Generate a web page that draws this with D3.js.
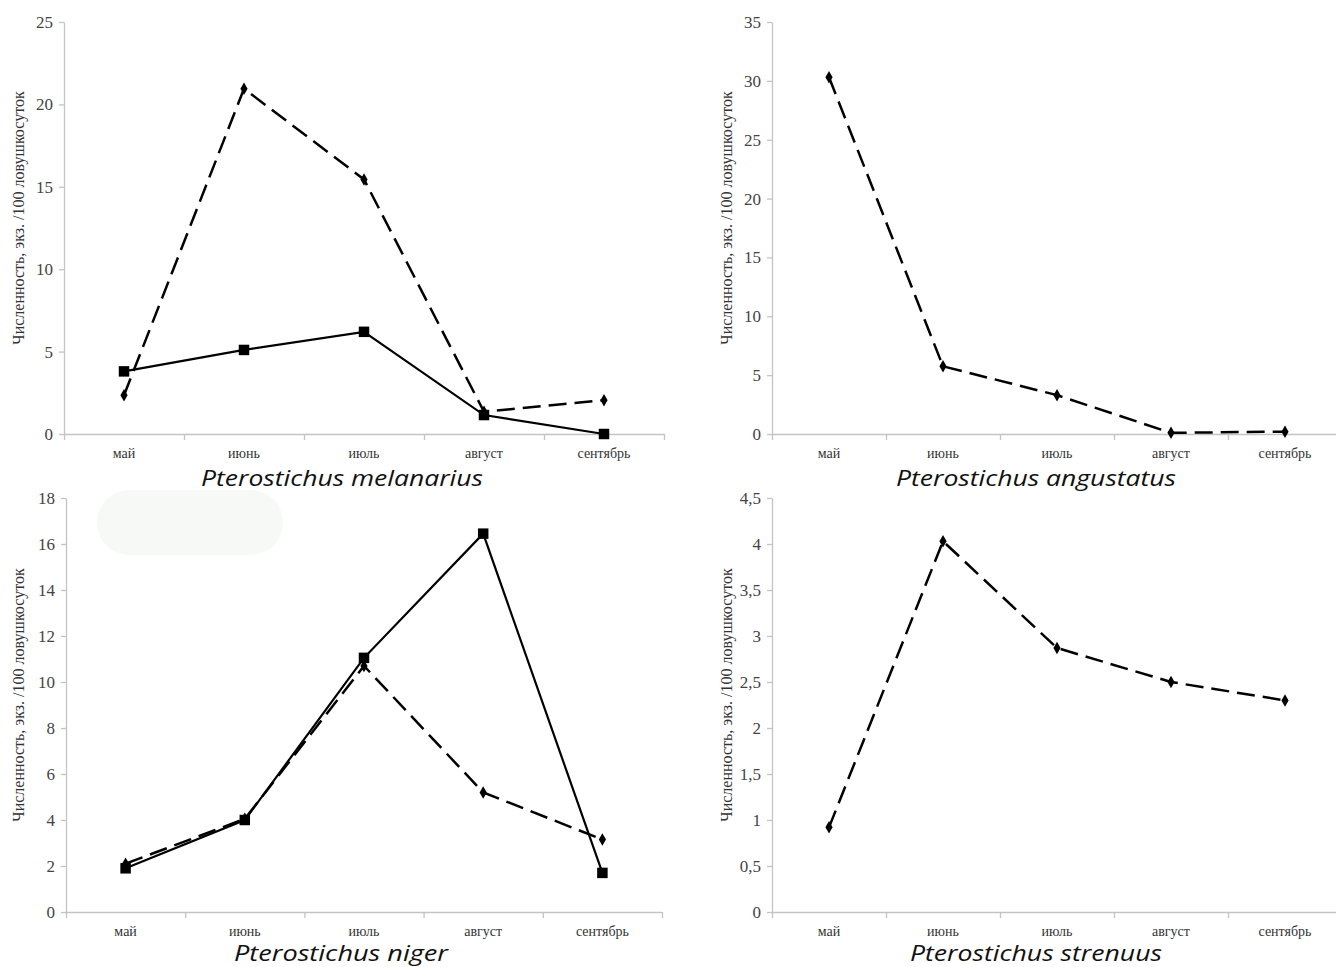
<!doctype html>
<html>
  <head>
    <meta charset="utf-8">
    <script src="https://d3js.org/d3.v7.min.js"></script>
    <style>
      body { margin: 0; background: white; }
      .tick text { font-family: "Liberation Serif", "DejaVu Serif", serif; }
    </style>
  </head>
  <body>
    <svg id="chart" width="1336" height="967"></svg>
    <script>
      // months on the x axis
      const months = ["май", "июнь", "июль", "август", "сентябрь"];

      // values (экз. /100 ловушкосуток)
      const melanariusDashed = [2.35, 20.95, 15.45, 1.35, 2.05];
      const melanariusSolid = [3.8, 5.1, 6.2, 1.15, 0];
      const angustatusDashed = [30.3, 5.75, 3.3, 0.1, 0.2];
      const nigerDashed = [2.1, 4.05, 10.7, 5.2, 3.15];
      const nigerSolid = [1.9, 4.0, 11.05, 16.45, 1.7];
      const strenuusDashed = [0.92, 4.03, 2.87, 2.5, 2.3];

      // y tick labels
      const melanariusTicks = [0, 5, 10, 15, 20, 25];
      const angustatusTicks = [0, 5, 10, 15, 20, 25, 30, 35];
      const nigerTicks = [0, 2, 4, 6, 8, 10, 12, 14, 16, 18];
      const strenuusTicks = [0, 0.5, 1, 1.5, 2, 2.5, 3, 3.5, 4, 4.5];

      const yTitle = "Численность, экз. /100 ловушкосуток";

      var svg = d3.select("#chart");
      svg.append("rect").attr("width", 1336).attr("height", 967).attr("fill", "white");

      // faint smudge in the lower-left panel of the original
      svg.append("rect")
        .attr("x", 97).attr("y", 490).attr("width", 186).attr("height", 65)
        .attr("rx", 32).attr("fill", "#f7f9f7");

      var panels = [
        { title: "Pterostichus melanarius", x0: 64, x1: 664, yTop: 22, yBot: 434, labelX: 18,
          ticks: melanariusTicks, dashed: melanariusDashed, solid: melanariusSolid, titleX: 342, titleY: 486, titleW: 282 },
        { title: "Pterostichus angustatus", x0: 772, x1: 1342, yTop: 22, yBot: 434, labelX: 726,
          ticks: angustatusTicks, dashed: angustatusDashed, solid: null, titleX: 1036, titleY: 486, titleW: 280 },
        { title: "Pterostichus niger", x0: 66, x1: 662, yTop: 498, yBot: 912, labelX: 18,
          ticks: nigerTicks, dashed: nigerDashed, solid: nigerSolid, titleX: 341, titleY: 961, titleW: 214 },
        { title: "Pterostichus strenuus", x0: 772, x1: 1342, yTop: 498, yBot: 912, labelX: 726,
          ticks: strenuusTicks, dashed: strenuusDashed, solid: null, titleX: 1036, titleY: 961, titleW: 252 }
      ];

      panels.forEach(drawPanel);

      function drawPanel(p) {
        var xScale = d3.scaleBand().domain(months).range([p.x0, p.x1]);
        var edges = d3.scaleLinear().domain([0, months.length]).range([p.x0, p.x1]);
        var yScale = d3.scaleLinear().domain([0, d3.max(p.ticks)]).range([p.yBot, p.yTop]);
        var fmt = function(d){ return String(d).replace(".", ","); };

        // y axis
        var ya = svg.append("g").attr("transform", "translate(" + p.x0 + ",0)")
          .call(d3.axisLeft(yScale).tickValues(p.ticks).tickFormat(fmt).tickSize(5).tickPadding(6).tickSizeOuter(0));
        ya.select(".domain").attr("stroke", "#c4c4c4").attr("stroke-width", 1.3);
        ya.selectAll(".tick line").attr("stroke", "#c4c4c4").attr("stroke-width", 1.3);
        ya.selectAll(".tick text").attr("fill", "#444").style("font-size", "17px");

        // x axis: boundary ticks + centred month labels
        var xe = svg.append("g").attr("transform", "translate(0," + p.yBot + ")")
          .call(d3.axisBottom(edges).tickValues(d3.range(months.length + 1)).tickFormat("").tickSize(6).tickSizeOuter(0));
        xe.select(".domain").attr("stroke", "#c4c4c4").attr("stroke-width", 1.3);
        xe.selectAll(".tick line").attr("stroke", "#c4c4c4").attr("stroke-width", 1.3);

        var xa = svg.append("g").attr("transform", "translate(0," + p.yBot + ")")
          .call(d3.axisBottom(xScale).tickSize(0).tickPadding(14));
        xa.select(".domain").remove();
        xa.selectAll(".tick text").attr("fill", "#333").style("font-size", "14px");

        // y axis title
        svg.append("text")
          .attr("transform", "translate(" + p.labelX + "," + ((p.yTop + p.yBot) / 2 - 10) + ") rotate(-90)")
          .attr("text-anchor", "middle")
          .attr("dominant-baseline", "central")
          .style("font-family", "'Liberation Serif', serif")
          .style("font-size", "16px")
          .attr("fill", "#333")
          .text(yTitle);

        // panel title (species), stretched to the width it has in the original
        svg.append("text")
          .attr("x", p.titleX).attr("y", p.titleY)
          .attr("text-anchor", "middle")
          .attr("textLength", p.titleW)
          .attr("lengthAdjust", "spacingAndGlyphs")
          .style("font-family", "'Open Sans', sans-serif")
          .style("font-style", "italic")
          .style("font-size", "22px")
          .attr("fill", "#111")
          .text(p.title);

        var line = d3.line()
          .x(function(d, i){ return xScale(months[i]) + xScale.bandwidth() / 2; })
          .y(function(d){ return yScale(d); });

        if (p.solid) {
          svg.append("path").datum(p.solid)
            .attr("d", line).attr("fill", "none")
            .attr("stroke", "#000").attr("stroke-width", 2.2);
          svg.append("g").selectAll("path").data(p.solid).enter().append("path")
            .attr("d", d3.symbol().type(d3.symbolSquare).size(110))
            .attr("transform", function(d, i){
              return "translate(" + (xScale(months[i]) + xScale.bandwidth() / 2) + "," + yScale(d) + ")";
            })
            .attr("fill", "#000");
        }

        svg.append("path").datum(p.dashed)
          .attr("d", line).attr("fill", "none")
          .attr("stroke", "#000").attr("stroke-width", 2.5)
          .attr("stroke-dasharray", "18,8");
        svg.append("g").selectAll("path").data(p.dashed).enter().append("path")
          .attr("d", d3.symbol().type(d3.symbolDiamond).size(45))
          .attr("transform", function(d, i){
            return "translate(" + (xScale(months[i]) + xScale.bandwidth() / 2) + "," + yScale(d) + ")";
          })
          .attr("fill", "#000");
      }
    </script>
  </body>
</html>
